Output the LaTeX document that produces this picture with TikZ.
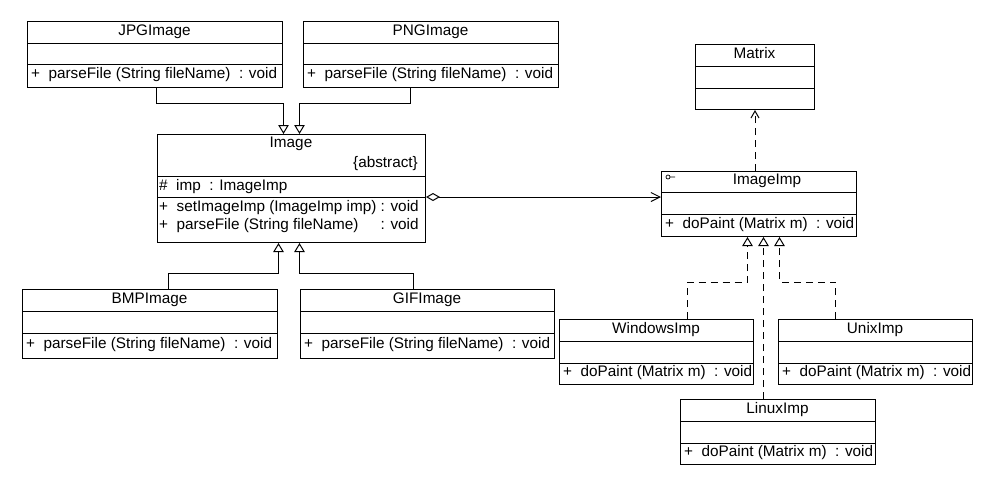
\documentclass[tikz,border=0pt]{standalone}
\usepackage{fontspec}
\setmainfont{Liberation Sans}
\usetikzlibrary{arrows.meta}

% one UML class with three compartments: name, attributes, operations
% #1 node name, #2 left, #3 top, #4 right, #5 first rule, #6 second rule, #7 bottom,
% #8 class name, #9 operation
\newcommand\umlclass[9]{%
  \node[classbox, minimum width={(#4)-(#2)}, minimum height={(#7)-(#3)}, anchor=north west] (#1) at (#2,#3) {};
  \draw[classline] (#2,#5) -- (#4,#5) (#2,#6) -- (#4,#6);
  \node[classtitle] (#1-name) at ({((#2)+(#4))/2},{((#3)+(#5))/2}) {#8};
  \node[member, anchor=west] (#1-ops) at (#2,{((#6)+(#7))/2}) {#9};
}

\begin{document}
\begin{tikzpicture}[x=1pt, y=-1pt,
  every node/.style={font=\fontsize{15.3}{18}\selectfont, inner sep=0pt},
  classbox/.style={draw=black, line width=1pt, fill=white, inner sep=0pt},
  classline/.style={draw=black, line width=1pt},
  classtitle/.style={text height=1.6ex, text depth=0.45ex},
  member/.style={inner xsep=4pt, text height=1.6ex, text depth=0.45ex},
  gen/.style={draw=black, line width=1pt, -{Triangle[open, length=9pt, width=10.5pt]}},
  real/.style={gen, dash pattern=on 7pt off 5pt},
  dep/.style={draw=black, line width=1pt, dash pattern=on 7pt off 5pt, -{Straight Barb[length=7pt, width=8pt]}},
  agg/.style={draw=black, line width=1pt, {Diamond[open, length=14pt, width=8pt]}-{Straight Barb[length=9pt, width=9pt]}}]

\useasboundingbox[fill=white] (0,0) rectangle (991,480);

% concrete image formats
\umlclass{jpg}{27}{21}{282}{43}{64}{87}{JPGImage}{+\ \ parseFile (String fileName) \ : void}
\umlclass{png}{303}{21}{558}{43}{64}{87}{PNGImage}{+\ \ parseFile (String fileName) \ : void}
\umlclass{bmp}{22}{289}{277}{311}{333}{358}{BMPImage}{+\ \ parseFile (String fileName) \ : void}
\umlclass{gif}{300}{289}{554}{311}{333}{358}{GIFImage}{+\ \ parseFile (String fileName) \ : void}

% abstract Image
\node[classbox, minimum width=268pt, minimum height=108pt, anchor=north west] (img) at (157,134) {};
\draw[classline] (157,176) -- (425,176) (157,197) -- (425,197);
\node[classtitle] (img-name) at (291,144) {Image};
\node[classtitle, anchor=east] (img-abs) at (418,164) {\{abstract\}};
\node[member, anchor=west, inner xsep=2pt] (img-attr) at (157,187) {\#\ \ imp \ : ImageImp};
\node[member, anchor=west, inner xsep=2pt, text height=, text depth=] (img-ops) at (157,217)
  {\begin{tabular}{@{}l@{}l@{}}
   +\ \ setImageImp (ImageImp imp) & \ : void\\
   +\ \ parseFile (String fileName) & \ : void
   \end{tabular}};

% implementor side
\umlclass{mat}{695}{44}{814}{66}{88}{109}{Matrix}{}
\node[classbox, minimum width=195pt, minimum height=65pt, anchor=north west] (imp) at (661,171) {};
\draw[classline] (661,192) -- (856,192) (661,214) -- (856,214);
\node[classtitle] (imp-name) at (767,181) {ImageImp};
\node[member, anchor=west] (imp-ops) at (661,225) {+\ \ doPaint (Matrix m) \ : void};
\draw[line width=0.7pt] (668,177) circle (2pt) (670,177) -- (675,177);

\umlclass{win}{559}{319}{753}{341}{363}{384}{WindowsImp}{+\ \ doPaint (Matrix m) \ : void}
\umlclass{unx}{778}{319}{972}{341}{363}{384}{UnixImp}{+\ \ doPaint (Matrix m) \ : void}
\umlclass{lnx}{680}{399}{875}{421}{443}{464}{LinuxImp}{+\ \ doPaint (Matrix m) \ : void}

% generalisations into Image
\draw[gen] ([xshift=1.5pt]jpg.south) -- ++(0,15) -| ([xshift=-8pt]img.north);
\draw[gen] ([xshift=-20.5pt]png.south) -- ++(0,15) -| ([xshift=8pt]img.north);
\draw[gen] ([xshift=18.5pt]bmp.north) -- ++(0,-16) -| ([xshift=-13pt]img.south);
\draw[gen] ([xshift=-14pt]gif.north) -- ++(0,-16) -| ([xshift=8pt]img.south);

% bridge: Image aggregates ImageImp
\coordinate (aggy) at (0,197);
\draw[agg] (img.east |- aggy) -- (imp.west |- aggy);

% ImageImp depends on Matrix
\draw[dep] (imp.north -| mat.south) -- (mat.south);

% realisations of ImageImp
\draw[real] ([xshift=31pt]win.north) -- ++(0,-37) -| ([xshift=-11.5pt]imp.south);
\draw[real] ([xshift=-40pt]unx.north) -- ++(0,-37) -| ([xshift=20.5pt]imp.south);
\draw[real] ([xshift=-14.5pt]lnx.north) -- ([xshift=4.5pt]imp.south);

\end{tikzpicture}
\end{document}
